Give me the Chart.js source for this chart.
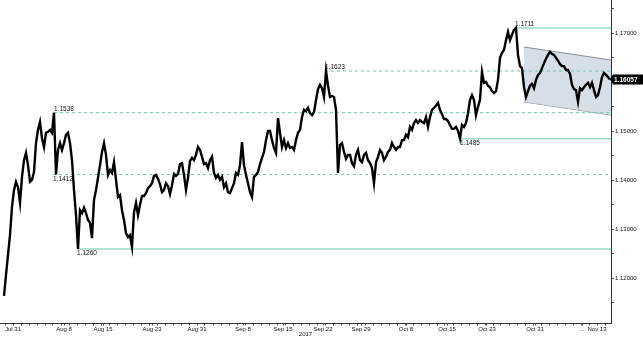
<!DOCTYPE html>
<html>
<head>
<meta charset="utf-8">
<script src="https://cdn.jsdelivr.net/npm/chart.js@4.4.1/dist/chart.umd.min.js"></script>
<style>
html,body{margin:0;padding:0;background:#fff;}
canvas{display:block;}
</style>
</head>
<body>
<canvas id="c" width="643" height="341"></canvas>
<script>
// EUR/USD, 6-hour bars, 31 Jul - 14 Nov 2017 (x = bar index)
const closes = [
1.1164,1.1207,1.1248,1.1288,1.1346,1.1380,1.1397,1.1386,1.1354,1.1407,
1.1441,1.1456,1.1431,1.1397,1.1401,1.1417,1.1476,1.1503,1.1519,1.1486,
1.1468,1.1497,1.1499,1.1503,1.1497,1.1538,1.1412,1.1462,1.1476,1.1462,
1.1476,1.1493,1.1497,1.1476,1.1441,1.1380,1.1329,1.1260,1.1339,1.1333,
1.1344,1.1333,1.1319,1.1313,1.1282,1.1360,1.1380,1.1405,1.1431,1.1458,
1.1476,1.1452,1.1411,1.1421,1.1415,1.1437,1.1401,1.1366,1.1370,1.1339,
1.1319,1.1292,1.1284,1.1288,1.1264,1.1335,1.1354,1.1329,1.1350,1.1368,
1.1368,1.1374,1.1384,1.1388,1.1394,1.1409,1.1411,1.1403,1.1392,1.1376,
1.1380,1.1394,1.1388,1.1372,1.1390,1.1413,1.1409,1.1413,1.1433,1.1435,
1.1411,1.1380,1.1405,1.1439,1.1446,1.1441,1.1452,1.1468,1.1462,1.1448,
1.1433,1.1435,1.1425,1.1441,1.1448,1.1415,1.1405,1.1411,1.1401,1.1407,
1.1386,1.1394,1.1376,1.1374,1.1384,1.1394,1.1415,1.1411,1.1431,1.1478,
1.1431,1.1411,1.1394,1.1376,1.1366,1.1407,1.1411,1.1417,1.1433,1.1446,
1.1458,1.1482,1.1501,1.1501,1.1482,1.1466,1.1456,1.1527,1.1497,1.1468,
1.1482,1.1466,1.1476,1.1466,1.1468,1.1462,1.1482,1.1497,1.1503,1.1529,
1.1544,1.1541,1.1548,1.1537,1.1533,1.1539,1.1564,1.1586,1.1595,1.1588,
1.1570,1.1623,1.1593,1.1570,1.1572,1.1570,1.1544,1.1415,1.1472,1.1476,
1.1458,1.1444,1.1452,1.1452,1.1435,1.1429,1.1452,1.1462,1.1441,1.1437,
1.1452,1.1456,1.1441,1.1435,1.1425,1.1394,1.1437,1.1448,1.1462,1.1456,
1.1441,1.1448,1.1458,1.1462,1.1476,1.1468,1.1462,1.1468,1.1468,1.1482,
1.1482,1.1493,1.1488,1.1509,1.1503,1.1517,1.1523,1.1517,1.1523,1.1519,
1.1517,1.1529,1.1509,1.1529,1.1544,1.1548,1.1552,1.1558,1.1544,1.1535,
1.1525,1.1525,1.1521,1.1513,1.1505,1.1505,1.1509,1.1501,1.1485,1.1513,
1.1509,1.1517,1.1537,1.1564,1.1574,1.1564,1.1533,1.1550,1.1564,1.1621,
1.1599,1.1601,1.1593,1.1590,1.1582,1.1578,1.1582,1.1605,1.1650,1.1660,
1.1666,1.1686,1.1703,1.1686,1.1697,1.1707,1.1711,1.1656,1.1633,1.1629,
1.1590,1.1570,1.1582,1.1593,1.1597,1.1588,1.1605,1.1615,1.1619,1.1629,
1.1639,1.1648,1.1656,1.1662,1.1658,1.1656,1.1650,1.1644,1.1637,1.1633,
1.1633,1.1625,1.1625,1.1617,1.1595,1.1586,1.1584,1.1560,1.1588,1.1584,
1.1590,1.1595,1.1599,1.1590,1.1599,1.1584,1.1570,1.1574,1.1590,1.1611,
1.1619,1.1615,1.1611,1.16057
];

// Key levels (price) and the bar where each one was set
const levelValues   = [1.1711, 1.1623, 1.1538, 1.1485, 1.1412, 1.1260];
const levelStartBar = [255.5, 160.5, 25, 228, 24.5, 36.5];
const levelIsHigh   = [true, true, true, false, false, false];
const levelIsSolid  = [true, false, false, true, false, true];

// Descending channel (start bar / end bar, upper and lower prices)
const channelBars  = [260, 303.5];
const channelUpper = [1.1672, 1.16455];
const channelLower = [1.1560, 1.15333];

// X tick labels (bar index positions)
const xTickBars   = [4.5, 30, 49.5, 74, 96.5, 119.5, 139.5, 159.5, 178.5, 201, 221.5, 241.5, 265.5, 289, 296.5];
const xTickLabels = ['Jul 31','Aug 8','Aug 15','Aug 23','Aug 31','Sep 8','Sep 15','Sep 22','Sep 29','Oct 8','Oct 15','Oct 23','Oct 31','...','Nov 13'];
const yTickValues = [1.115,1.12,1.125,1.13,1.135,1.14,1.145,1.15,1.155,1.16,1.165,1.17,1.175];

const X_MIN = -2, X_MAX = 303.5, Y_MIN = 1.11088, Y_MAX = 1.1768;
const lastPrice = closes[closes.length - 1];
const FONT = "'Liberation Sans', Arial, sans-serif";

const priceData = closes.map((v, i) => ({x: i, y: v}));

const datasets = [];
datasets.push({
  label: 'EURUSD', data: priceData, borderColor: '#000', borderWidth: 2.4,
  pointRadius: 0, tension: 0, order: 0, borderJoinStyle: 'miter'
});
levelValues.forEach((lv, k) => {
  datasets.push({
    label: 'lvl' + k,
    data: [{x: levelStartBar[k], y: lv}, {x: X_MAX, y: lv}],
    borderColor: levelIsSolid[k] ? 'rgb(150,222,200)' : 'rgb(110,200,178)',
    borderWidth: levelIsSolid[k] ? 1.5 : 1,
    borderDash: levelIsSolid[k] ? [] : [3, 3],
    pointRadius: 0, order: 3
  });
});
datasets.push({
  label: 'chU', data: channelBars.map((b, i) => ({x: b, y: channelUpper[i]})),
  borderColor: '#8a8f96', borderWidth: 1, pointRadius: 0,
  backgroundColor: 'rgba(207,216,227,0.85)', fill: '+1', order: 5
});
datasets.push({
  label: 'chL', data: channelBars.map((b, i) => ({x: b, y: channelLower[i]})),
  borderColor: '#8a8f96', borderWidth: 1, pointRadius: 0, fill: false, order: 5
});

const overlay = {
  id: 'overlay',
  afterDatasetsDraw(chart) {
    const {ctx, scales: {x, y}} = chart;
    ctx.save();
    ctx.font = '6.5px ' + FONT;
    ctx.fillStyle = '#111';
    ctx.textAlign = 'left';
    levelValues.forEach((lv, k) => {
      const px = x.getPixelForValue(levelStartBar[k]);
      const py = y.getPixelForValue(lv);
      if (levelIsHigh[k]) { ctx.textBaseline = 'bottom'; ctx.fillText(lv.toFixed(4), px, py - 0.5); }
      else { ctx.textBaseline = 'top'; ctx.fillText(lv.toFixed(4), px, py + 1.5); }
    });
    ctx.restore();
  },
  afterDraw(chart) {
    const {ctx, scales: {y}} = chart;
    const py = y.getPixelForValue(lastPrice);
    const left = chart.chartArea.right + 1;
    ctx.save();
    ctx.fillStyle = '#000';
    ctx.beginPath();
    ctx.moveTo(left - 2, py);
    ctx.lineTo(left + 1, py - 5);
    ctx.lineTo(chart.width, py - 5);
    ctx.lineTo(chart.width, py + 5);
    ctx.lineTo(left + 1, py + 5);
    ctx.closePath();
    ctx.fill();
    ctx.fillStyle = '#fff';
    ctx.font = 'bold 6.5px ' + FONT;
    ctx.textAlign = 'left';
    ctx.textBaseline = 'middle';
    ctx.fillText(lastPrice.toFixed(5), left + 2, py + 0.5);
    ctx.restore();
  }
};

new Chart(document.getElementById('c'), {
  type: 'line',
  data: {datasets},
  plugins: [overlay],
  options: {
    responsive: false, animation: false,
    layout: {padding: 0},
    plugins: {legend: {display: false}, tooltip: {enabled: false}},
    scales: {
      x: {
        type: 'linear', min: X_MIN, max: X_MAX, offset: false,
        afterFit(s) { s.height = 18; s.paddingLeft = 0; s.paddingRight = 0; },
        afterBuildTicks(s) {
          const vals = new Set(xTickBars);
          for (let b = 0.5; b < X_MAX; b += 4) vals.add(b);
          s.ticks = [...vals].sort((a, b) => a - b).map(v => ({value: v}));
        },
        grid: {display: true, drawOnChartArea: false, tickLength: 2.5, color: '#555', tickColor: '#555'},
        border: {display: true, color: '#333', width: 1},
        ticks: {
          autoSkip: false, maxRotation: 0, minRotation: 0, padding: 0,
          color: '#111', font: {family: FONT, size: 6},
          callback(v) { const i = xTickBars.indexOf(v); return i >= 0 ? xTickLabels[i] : ''; }
        },
        title: {display: true, text: '2017', color: '#111', font: {family: FONT, size: 6}, padding: {top: 0, bottom: 3}}
      },
      y: {
        type: 'linear', position: 'right', min: Y_MIN, max: Y_MAX,
        afterFit(s) { s.width = 32; s.paddingTop = 0; s.paddingBottom = 0; },
        afterBuildTicks(s) { s.ticks = yTickValues.map(v => ({value: v})); },
        grid: {display: true, drawOnChartArea: false, tickLength: 3, color: '#555', tickColor: '#555'},
        border: {display: true, color: '#333', width: 1},
        ticks: {
          padding: 1, color: '#111', font: {family: FONT, size: 6},
          callback(v) {
            const major = Math.abs(v * 100 - Math.round(v * 100)) < 1e-6;
            if (!major) return '';
            if (Math.abs(v - lastPrice) < 0.003) return '';
            return v.toFixed(5);
          }
        }
      }
    }
  }
});
</script>
</body>
</html>
